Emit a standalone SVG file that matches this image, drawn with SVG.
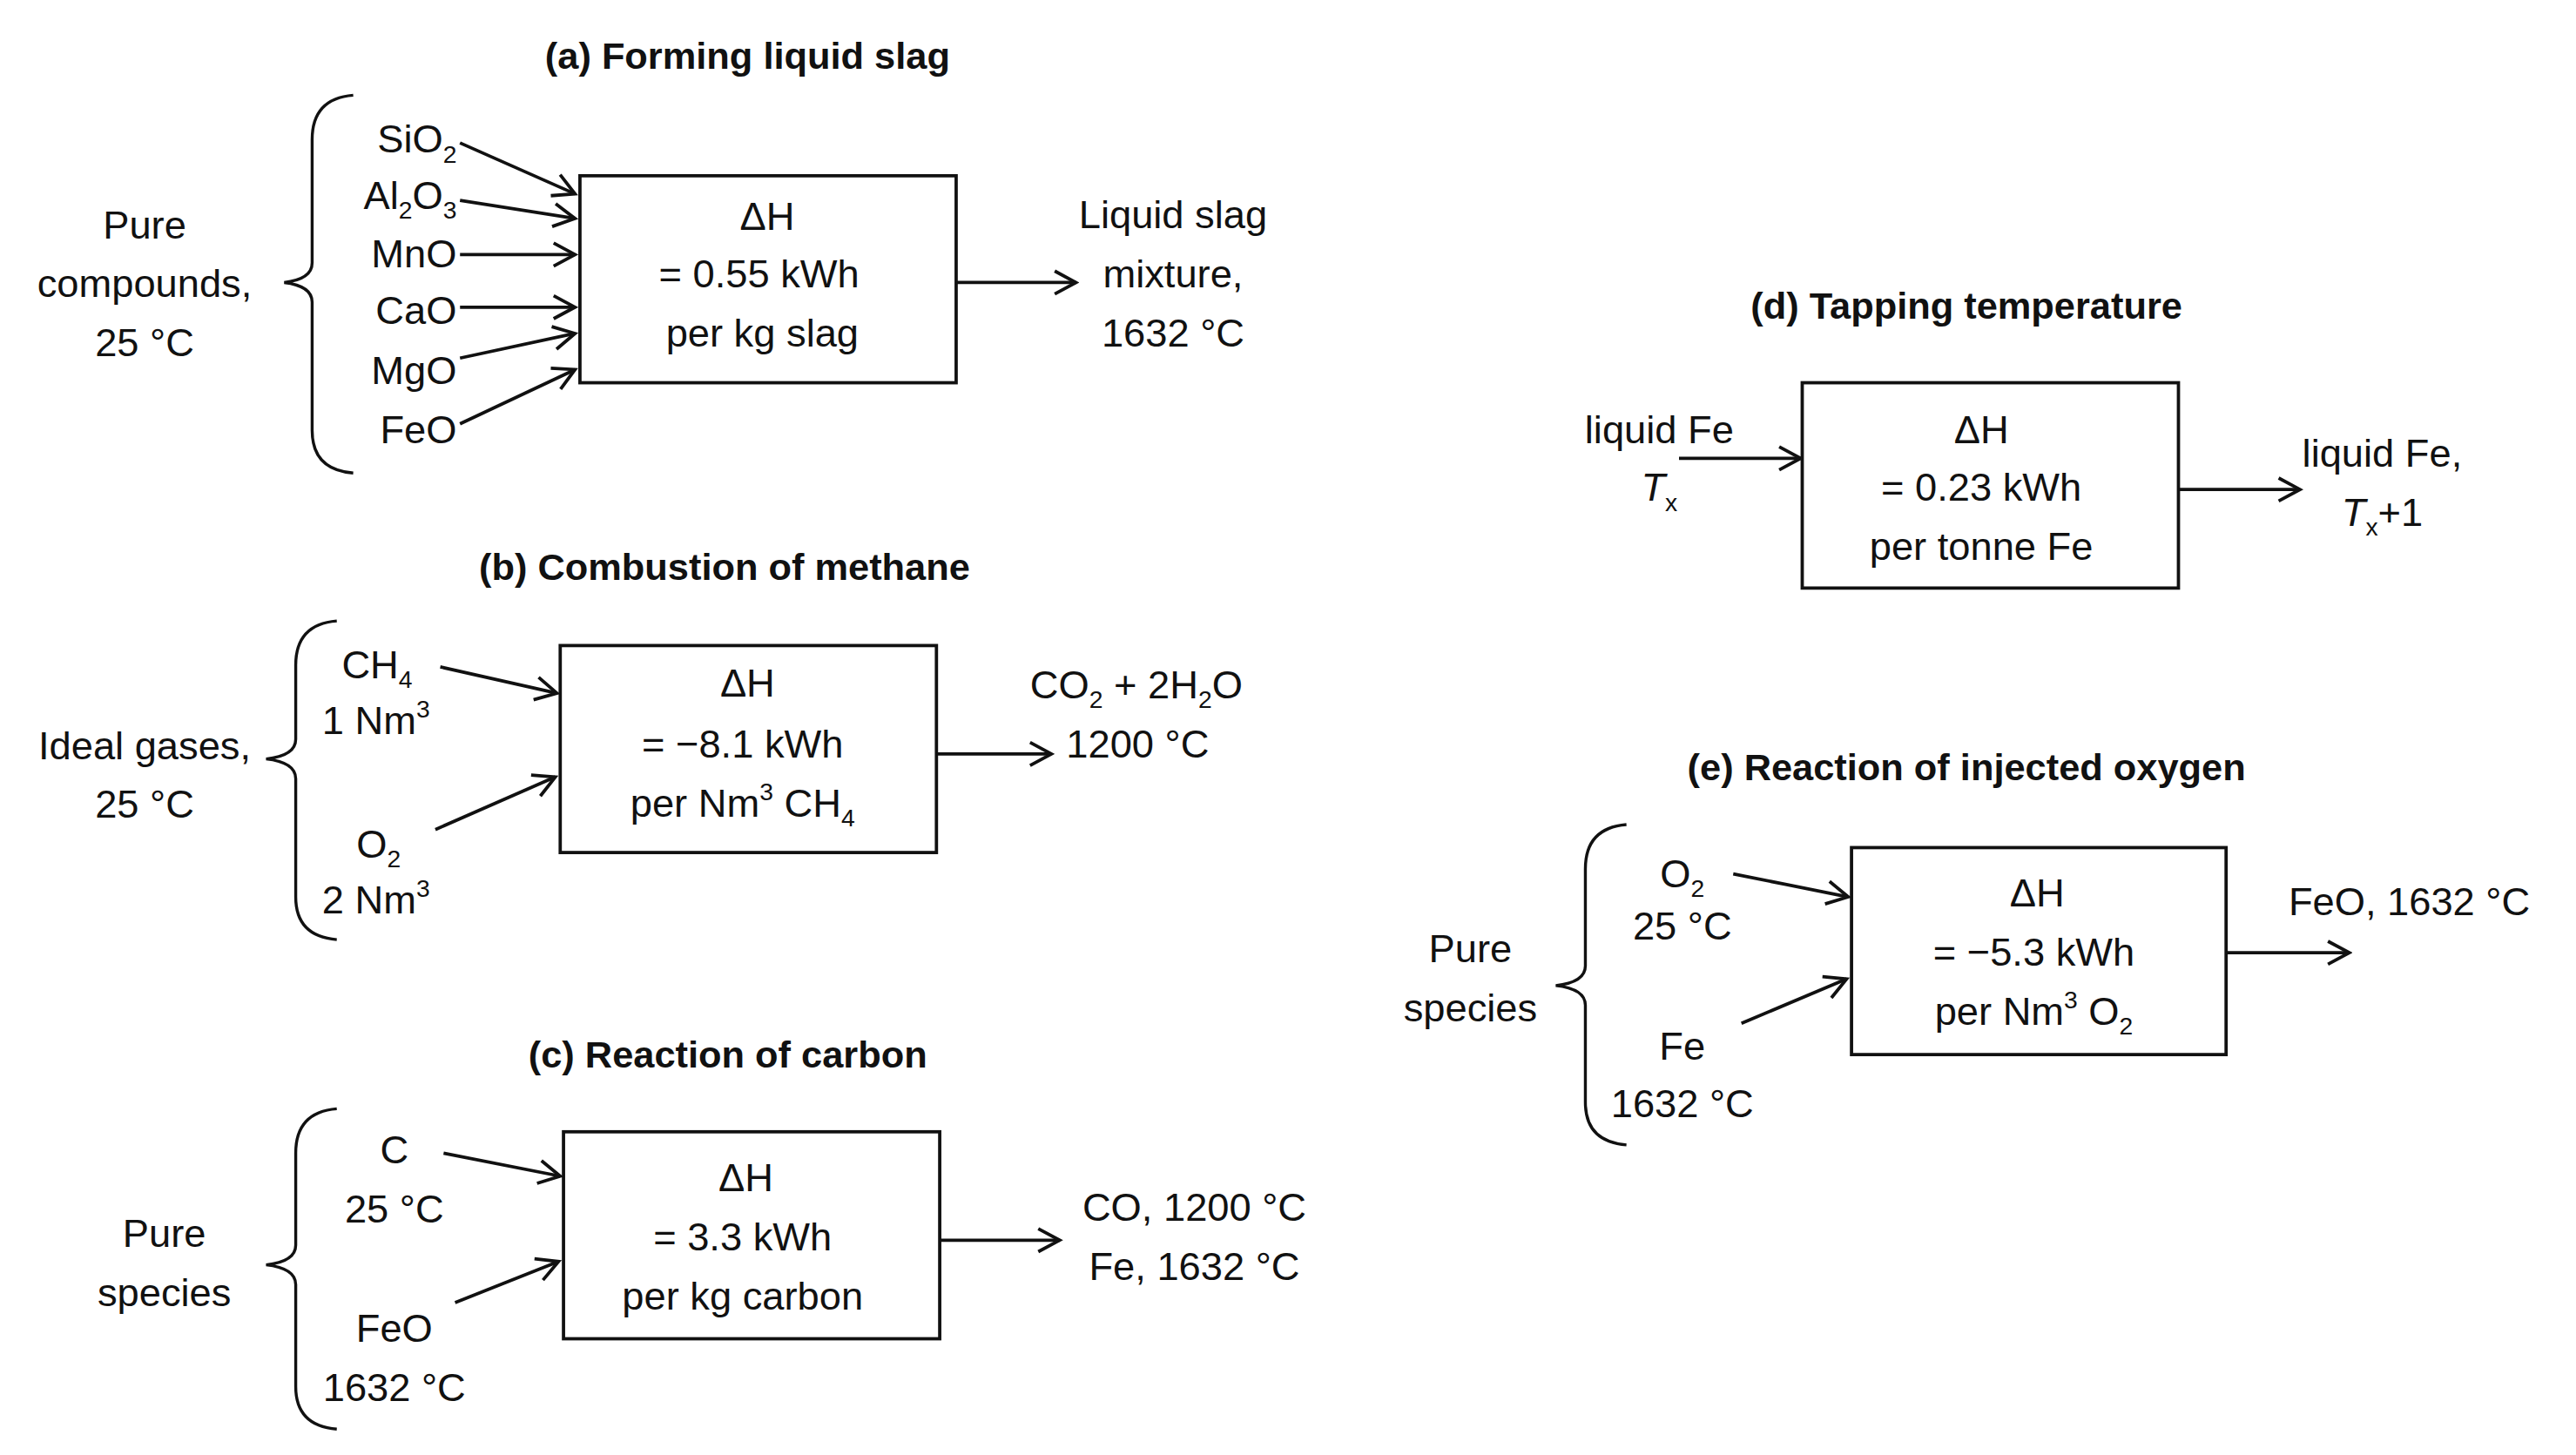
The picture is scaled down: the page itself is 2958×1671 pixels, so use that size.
<svg xmlns="http://www.w3.org/2000/svg" width="2958" height="1671" viewBox="0 0 2958 1671">
<style>
text{font-family:"Liberation Sans",Arial,sans-serif;font-size:24px;fill:#111}
.t{font-weight:bold;font-size:23px;text-anchor:middle}
.m{text-anchor:middle}
.e{text-anchor:end}
.box{fill:#fff;stroke:#111;stroke-width:2}
.br{fill:none;stroke:#111;stroke-width:1.8}
.c line{stroke:#111;stroke-width:2;marker-end:url(#ah)}
.s{font-size:15px}
</style>
<defs>
<marker id="ah" markerUnits="userSpaceOnUse" markerWidth="16" markerHeight="20" refX="14" refY="8" orient="auto" viewBox="0 0 16 16">
<path d="M1,1 L14,8 L1,15" fill="none" stroke="#111" stroke-width="2"/>
</marker>
</defs>
<rect width="2958" height="1671" fill="#fff"/>
<g transform="scale(1.8865)">
<g id="a">
<text class="t" x="455" y="42">(a) Forming liquid slag</text>
<path class="br" d="M215,58 Q190,60 190,85 L190,160 Q190,170 173,172 Q190,174 190,184 L190,262 Q190,286 215,288"/>
<text class="m" x="88" y="145">Pure</text>
<text class="m" x="88" y="181">compounds,</text>
<text class="m" x="88" y="217">25 °C</text>
<text class="e" x="278" y="93">SiO<tspan class="s" dy="6">2</tspan></text>
<text class="e" x="278" y="127">Al<tspan class="s" dy="6">2</tspan><tspan dy="-6">O</tspan><tspan class="s" dy="6">3</tspan></text>
<text class="e" x="278" y="163">MnO</text>
<text class="e" x="278" y="197">CaO</text>
<text class="e" x="278" y="234">MgO</text>
<text class="e" x="278" y="270">FeO</text>
<rect class="box" x="353" y="107" width="229" height="126"/>
<text class="m" x="467" y="140">ΔH</text>
<text class="m" x="462" y="175">= 0.55 kWh</text>
<text class="m" x="464" y="211">per kg slag</text>
<text class="m" x="714" y="139">Liquid slag</text>
<text class="m" x="714" y="175">mixture,</text>
<text class="m" x="714" y="211">1632  °C</text>
</g>
<g id="b">
<text class="t" x="441" y="353">(b) Combustion of methane</text>
<path class="br" d="M205,378 Q180,380 180,405 L180,450 Q180,460 162,462 Q180,464 180,474 L180,546 Q180,570 205,572"/>
<text class="m" x="88" y="462">Ideal gases,</text>
<text class="m" x="88" y="498">25 °C</text>
<text x="208" y="413">CH<tspan class="s" dy="6">4</tspan></text>
<text x="196" y="447">1 Nm<tspan class="s" dy="-10">3</tspan></text>
<text x="217" y="522">O<tspan class="s" dy="6">2</tspan></text>
<text x="196" y="556">2 Nm<tspan class="s" dy="-10">3</tspan></text>
<rect class="box" x="341" y="393" width="229" height="126"/>
<text class="m" x="455" y="424">ΔH</text>
<text class="m" x="452" y="461">= −8.1 kWh</text>
<text class="m" x="452" y="497">per Nm<tspan class="s" dy="-10">3</tspan><tspan dy="10"> CH</tspan><tspan class="s" dy="6">4</tspan></text>
<text x="627" y="425">CO<tspan class="s" dy="6">2</tspan><tspan dy="-6"> + 2H</tspan><tspan class="s" dy="6">2</tspan><tspan dy="-6">O</tspan></text>
<text x="649" y="461">1200  °C</text>
</g>
<g id="c">
<text class="t" x="443" y="650">(c) Reaction of carbon</text>
<path class="br" d="M205,675 Q180,677 180,702 L180,758 Q180,768 162,770 Q180,772 180,782 L180,844 Q180,868 205,870"/>
<text class="m" x="100" y="759">Pure</text>
<text class="m" x="100" y="795">species</text>
<text class="m" x="240" y="708">C</text>
<text class="m" x="240" y="744">25 °C</text>
<text class="m" x="240" y="817">FeO</text>
<text class="m" x="240" y="853">1632 °C</text>
<rect class="box" x="343" y="689" width="229" height="126"/>
<text class="m" x="454" y="725">ΔH</text>
<text class="m" x="452" y="761">= 3.3 kWh</text>
<text class="m" x="452" y="797">per kg carbon</text>
<text class="m" x="727" y="743">CO, 1200  °C</text>
<text class="m" x="727" y="779">Fe, 1632 °C</text>
</g>
<g id="d">
<text class="t" x="1197" y="194">(d) Tapping temperature</text>
<text class="m" x="1010" y="270">liquid Fe</text>
<text class="m" x="1010" y="305"><tspan font-style="italic">T</tspan><tspan class="s" dy="6">x</tspan></text>
<rect class="box" x="1097" y="233" width="229" height="125"/>
<text class="m" x="1206" y="270">ΔH</text>
<text class="m" x="1206" y="305">= 0.23 kWh</text>
<text class="m" x="1206" y="341">per tonne Fe</text>
<text class="m" x="1450" y="284">liquid Fe,</text>
<text class="m" x="1450" y="320"><tspan font-style="italic">T</tspan><tspan class="s" dy="6">x</tspan><tspan dy="-6">+1</tspan></text>
</g>
<g id="e">
<text class="t" x="1197" y="475">(e) Reaction of injected oxygen</text>
<path class="br" d="M990,502 Q965,504 965,529 L965,588 Q965,598 947,600 Q965,602 965,612 L965,671 Q965,695 990,697"/>
<text class="m" x="895" y="586">Pure</text>
<text class="m" x="895" y="622">species</text>
<text class="m" x="1024" y="540">O<tspan class="s" dy="6">2</tspan></text>
<text class="m" x="1024" y="572">25 °C</text>
<text class="m" x="1024" y="645">Fe</text>
<text class="m" x="1024" y="680">1632 °C</text>
<rect class="box" x="1127" y="516" width="228" height="126"/>
<text class="m" x="1240" y="552">ΔH</text>
<text class="m" x="1238" y="588">= −5.3 kWh</text>
<text class="m" x="1238" y="624">per Nm<tspan class="s" dy="-10">3</tspan><tspan dy="10"> O</tspan><tspan class="s" dy="6">2</tspan></text>
<text x="1393" y="557">FeO, 1632 °C</text>
</g>
<g id="connectors" class="c">
<line x1="280" y1="87" x2="350" y2="118"/>
<line x1="280" y1="122" x2="350" y2="133"/>
<line x1="280" y1="155" x2="350" y2="155"/>
<line x1="280" y1="187" x2="350" y2="187"/>
<line x1="280" y1="218" x2="350" y2="203"/>
<line x1="280" y1="258" x2="350" y2="225"/>
<line x1="582" y1="172" x2="655" y2="172"/>
<line x1="268" y1="406" x2="339" y2="422"/>
<line x1="265" y1="505" x2="338" y2="473"/>
<line x1="570" y1="459" x2="640" y2="459"/>
<line x1="270" y1="702" x2="341" y2="716"/>
<line x1="277" y1="793" x2="340" y2="768"/>
<line x1="572" y1="755" x2="645" y2="755"/>
<line x1="1022" y1="279" x2="1096" y2="279"/>
<line x1="1326" y1="298" x2="1400" y2="298"/>
<line x1="1055" y1="532" x2="1125" y2="546"/>
<line x1="1060" y1="623" x2="1124" y2="596"/>
<line x1="1355" y1="580" x2="1430" y2="580"/>
</g>
</g>
</svg>
